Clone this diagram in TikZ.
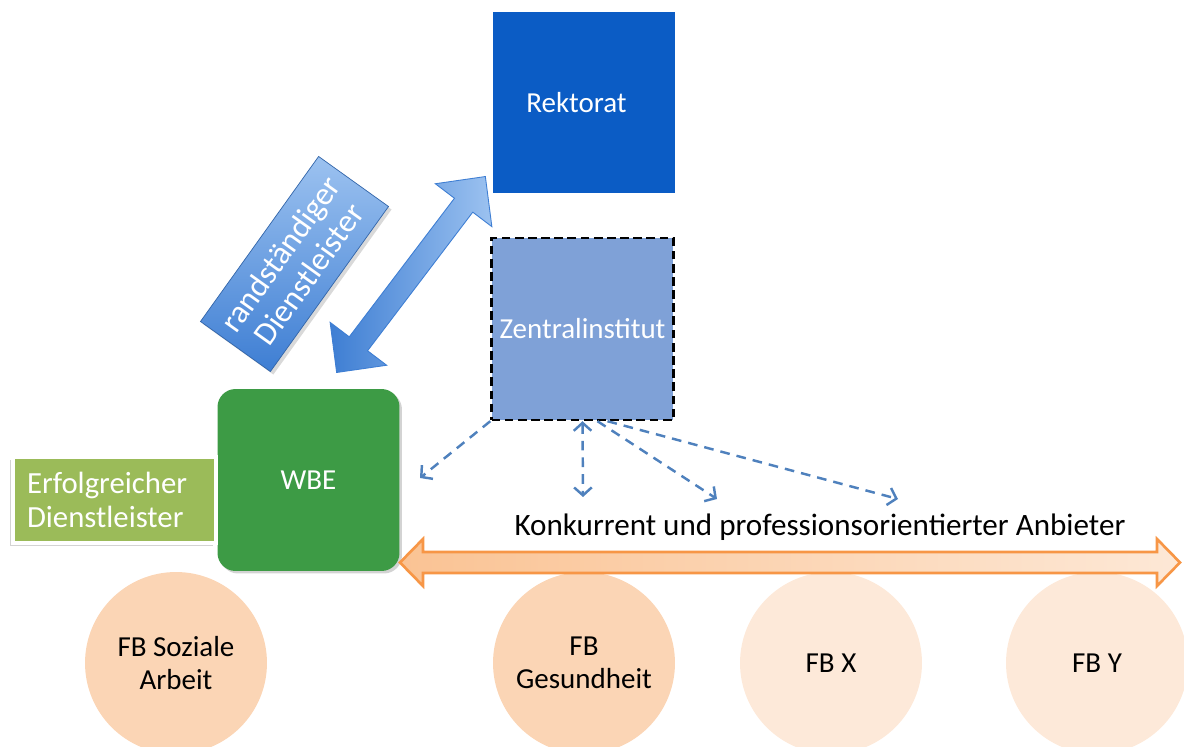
\documentclass[tikz,border=0pt]{standalone}
\usepackage{fontspec}
\setmainfont{Carlito}
\usetikzlibrary{calc,positioning,arrows.meta,shadows}
\definecolor{rektoratblue}{HTML}{0B5CC5}
\definecolor{zentralblue}{HTML}{7FA1D7}
\definecolor{wbegreen}{HTML}{3D9B45}
\definecolor{erfolggreen}{HTML}{9BBB59}
\definecolor{randlight}{HTML}{9CC2F0}
\definecolor{randdark}{HTML}{3E7ED3}
\definecolor{linkblue}{HTML}{4F81BD}
\definecolor{orangeline}{HTML}{F79646}
\definecolor{orangedark}{HTML}{FAC394}
\definecolor{orangelight}{HTML}{FDE8D6}
\definecolor{peach}{HTML}{FBD5B5}
\definecolor{peachlight}{HTML}{FDE9D9}
% Doppelpfeil entlang x: #1 halbe Laenge, #2 halbe Schaftbreite, #3 halbe Kopfbreite, #4 Kopflaenge
\def\doppelpfeil[#1](#2:#3:#4:#5){\path[#1] (-#2,0) -- (-#2+#5,-#4) -- (-#2+#5,-#3) -- (#2-#5,-#3) -- (#2-#5,-#4) -- (#2,0)
	-- (#2-#5,#4) -- (#2-#5,#3) -- (-#2+#5,#3) -- (-#2+#5,#4) -- cycle;}

\begin{document}
\begin{tikzpicture}[x=0.02cm,y=-0.02cm,
		box/.style={minimum width=3.64cm,minimum height=3.64cm,inner sep=0pt,text=white,font=\fontsize{16.5}{19}\selectfont},
		label box/.style={minimum width=4.06cm,minimum height=1.72cm,inner sep=0pt,text=white,font=\fontsize{17.5}{19.5}\selectfont},
		fb/.style={circle,minimum size=3.64cm,inner sep=0pt,align=center,font=\fontsize{16.5}{19}\selectfont},
		link/.style={draw=linkblue,line width=1.4pt,dash pattern=on 5.5pt off 4pt,-{Straight Barb[length=4.5pt,width=10pt]}}]
			%%%%% START %%%%%
			\useasboundingbox (0,0) rectangle (1184,747);
			\clip (0,0) rectangle (1184,747);
			
			% Fachbereiche
			\node[fb,fill=peach] (soziale) at (176,663) {FB Soziale\\Arbeit};
			\node[fb,fill=peach] (gesundheit) at (584,663) {FB\\Gesundheit};
			\node[fb,fill=peachlight] (fbx) at (831,663) {FB X};
			\node[fb,fill=peachlight] (fby) at (1097,663) {FB Y};
			
			% Kaestchen
			\node[box,fill=rektoratblue] (rektorat) at (584,102.5) {\hspace*{-0.3cm}Rektorat};
			\node[box,fill=zentralblue,draw=black,line width=1.4pt,dash pattern=on 5pt off 2.5pt] (zentral) at (582.5,329) {Zentralinstitut};
			\node[box,fill=wbegreen,rounded corners=0.36cm,drop shadow={opacity=0.35,shadow xshift=0.05cm,shadow yshift=-0.05cm}] (wbe) at (308.5,480) {WBE};
			
			\node[label box,fill=erfolggreen,draw=white,line width=2pt,align=left,text width=3.5cm,
				drop shadow={opacity=0.35,shadow xshift=-0.06cm,shadow yshift=-0.06cm}] (erfolg) at (114.5,500) {Erfolgreicher\\Dienstleister};
			\node[label box,rotate=54.4,align=center,top color=randlight,bottom color=randdark,draw=randdark!80!black,line width=0.4pt,
				font=\fontsize{18.5}{20}\selectfont,
				drop shadow={opacity=0.3,shadow xshift=0.06cm,shadow yshift=-0.06cm}] (rand) at (294.5,264) {randständiger\\Dienstleister};
			
			% Pfeile
			\begin{scope}[shift={(411,274.5)},rotate=52.8]
				\doppelpfeil[left color=randdark,right color=randlight,draw=randdark,line width=0.5pt](123:11.5:35.5:36)
			\end{scope}
			\begin{scope}[shift={(790,562.5)}]
				\doppelpfeil[left color=orangedark,right color=orangelight,draw=orangeline,line width=1.5pt](390:10.5:23.5:23)
			\end{scope}
			\node[font=\fontsize{17.7}{21}\selectfont] (anbieter) at (820,527) {Konkurrent und professionsorientierter Anbieter};
			
			\coordinate (zwbe) at (420,478);
			\coordinate (zfb) at (583,497);
			\coordinate (zmitte) at (717,499);
			\coordinate (zrechts) at (898,499);
			\draw[link] (zentral.south west) -- (zwbe);
			\draw[link,{Straight Barb[length=4.5pt,width=10pt]}-{Straight Barb[length=4.5pt,width=10pt]}] (zentral.south) -- (zfb);
			\draw[link] ($(zentral.south)+(15,0)$) -- (zmitte);
			\draw[link] ($(zentral.south)+(25,0)$) -- (zrechts);
			%%%%% END %%%%%
\end{tikzpicture}
\end{document}
